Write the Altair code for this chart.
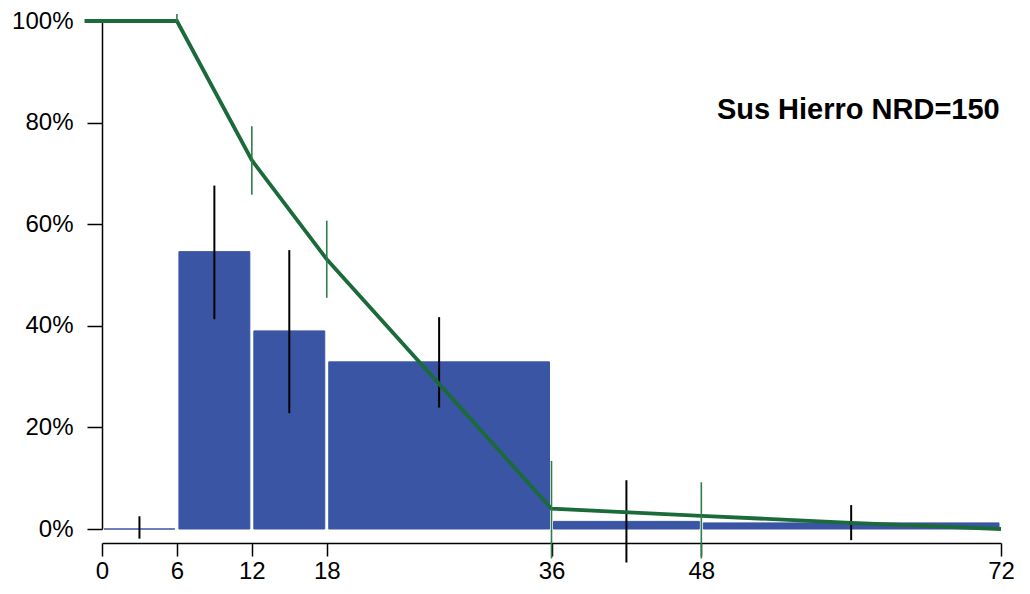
import altair as alt
import pandas as pd

# Histogram-like bars (interval start, end, percent)
bar_start = [0, 6, 12, 18, 36, 48]
bar_end = [6, 12, 18, 36, 48, 72]
bar_pct = [0.0, 54.6, 39.0, 32.9, 1.5, 1.2]

# Black error bars at interval midpoints
err_x = [3, 9, 15, 27, 42, 60]
err_lo = [-1.9, 41.3, 22.8, 23.9, -6.6, -2.2]
err_hi = [2.5, 67.6, 54.9, 41.7, 9.6, 4.7]

# Green survival curve
surv_x = [-1.4, 6, 12, 18, 36, 48, 60, 72]
surv_pct = [100.0, 100.0, 72.6, 53.1, 4.0, 2.6, 1.2, 0.0]

# Green confidence ticks on survival curve
ci_x = [6, 12, 18, 36, 48]
ci_lo = [99.8, 65.8, 45.5, -5.8, -5.8]
ci_hi = [101.4, 79.3, 60.7, 13.4, 9.2]

x_ticks = [0, 6, 12, 18, 36, 48, 72]
y_ticks = [0, 20, 40, 60, 80, 100]
label_text = "Sus Hierro NRD=150"

BLUE = "#3a55a4"
GREEN = "#1b6b3a"
GREEN_LIGHT = "#2f7d4b"
FONT = "Liberation Sans"

bars = pd.DataFrame({"x0": bar_start, "x1": bar_end, "pct": bar_pct})
errs = pd.DataFrame({"x": err_x, "lo": err_lo, "hi": err_hi})
surv = pd.DataFrame({"x": surv_x, "pct": surv_pct})
cis = pd.DataFrame({"x": ci_x, "lo": ci_lo, "hi": ci_hi})

xscale = alt.Scale(domain=[0, 72], nice=False, zero=False)
yscale = alt.Scale(domain=[0, 100], nice=False, zero=False)

xaxis = alt.Axis(values=x_ticks, title=None, grid=False, offset=14,
                 tickSize=13, tickWidth=1.5, domainWidth=1.5,
                 domainColor="black", tickColor="black",
                 labelFont=FONT, labelFontSize=24, labelColor="black",
                 labelPadding=3, labelFlush=False, labelOverlap=False)
yaxis = alt.Axis(values=y_ticks, title=None, grid=False,
                 tickSize=15, tickWidth=1.5, domainWidth=1.5,
                 domainColor="black", tickColor="black",
                 labelFont=FONT, labelFontSize=24, labelColor="black",
                 labelPadding=14, labelExpr="datum.value + '%'",
                 labelFlush=False, labelOverlap=False)

bar_layer = alt.Chart(bars).mark_rect(
    color=BLUE, stroke=BLUE, strokeWidth=1, xOffset=2, x2Offset=-2
).encode(
    x=alt.X("x0:Q", scale=xscale, axis=xaxis),
    x2="x1:Q",
    y=alt.Y("pct:Q", scale=yscale, axis=yaxis),
    y2=alt.datum(0),
)

err_layer = alt.Chart(errs).mark_rule(color="black", strokeWidth=2).encode(
    x=alt.X("x:Q", scale=xscale),
    y=alt.Y("lo:Q", scale=yscale),
    y2="hi:Q",
)

line_layer = alt.Chart(surv).mark_line(color=GREEN, strokeWidth=3.8).encode(
    x=alt.X("x:Q", scale=xscale),
    y=alt.Y("pct:Q", scale=yscale),
)

ci_layer = alt.Chart(cis).mark_rule(color=GREEN_LIGHT, strokeWidth=1.6).encode(
    x=alt.X("x:Q", scale=xscale),
    y=alt.Y("lo:Q", scale=yscale),
    y2="hi:Q",
)

text_layer = alt.Chart(pd.DataFrame({"t": [label_text]})).mark_text(
    align="right", baseline="alphabetic", font=FONT, fontSize=29,
    fontWeight="bold", color="black"
).encode(
    x=alt.datum(71.9, scale=xscale),
    y=alt.datum(80.8, scale=yscale),
    text="t:N",
)

chart = alt.layer(bar_layer, err_layer, line_layer, ci_layer, text_layer).properties(
    width=899, height=508,
    autosize=alt.AutoSizeParams(type="none"),
    padding={"left": 94, "top": 13, "right": 21, "bottom": 57},
    background="white",
).configure_view(stroke=None)

chart.save("out.html", embed_options={"renderer": "svg", "actions": False})
